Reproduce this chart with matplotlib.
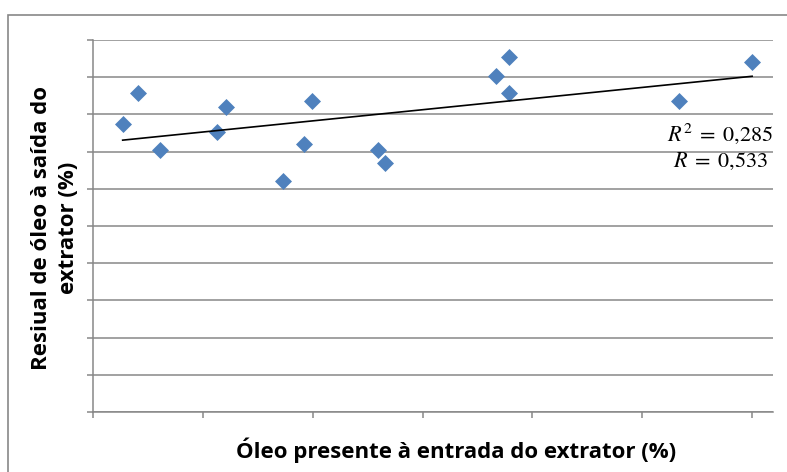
import numpy as np
import matplotlib
matplotlib.use("Agg")
import matplotlib.pyplot as plt
from matplotlib.patches import Rectangle

# Data (axis units are arbitrary since tick labels are hidden)
oil_in = [0.27, 0.41, 0.61, 1.13, 1.21, 1.73, 1.92, 1.99, 2.59, 2.66, 3.67, 3.79, 3.79, 5.33, 6.00]
oil_out = [7.73, 8.57, 7.05, 7.53, 8.21, 6.22, 7.21, 8.36, 7.04, 6.69, 9.03, 9.55, 8.57, 8.36, 9.40]
r2_text = r"$R^2\;=\;0{,}285$"
r_text = r"$R\;=\;0{,}533$"
xlabel = "Óleo presente à entrada do extrator (%)"
ylabel = "Resiual de óleo à saída do\nextrator (%)"

plt.rcParams['mathtext.fontset'] = 'stix'

W, H = 787, 472
fig = plt.figure(figsize=(W / 100, H / 100), dpi=100)
ax = fig.add_axes([93 / W, 1 - 412 / H, (773 - 93) / W, (412 - 40) / H])

grid_c = '#878787'
ax.set_xlim(0, 6.19)
ax.set_ylim(0, 10)
ax.set_xticks(np.arange(0, 7, 1))
ax.set_yticks(np.arange(0, 11, 1))
ax.set_xticklabels([])
ax.set_yticklabels([])
ax.grid(axis='y', color=grid_c, linewidth=1.1)
ax.set_axisbelow(True)
for s in ['top', 'right']:
    ax.spines[s].set_visible(False)
for s in ['left', 'bottom']:
    ax.spines[s].set_color(grid_c)
    ax.spines[s].set_linewidth(1.1)
ax.tick_params(axis='both', direction='out', length=4, width=1.1, color=grid_c)

ax.scatter(oil_in, oil_out, marker='D', s=75, color='#4F81BD', zorder=3, linewidths=0)

x = np.array(oil_in)
y = np.array(oil_out)
m, b = np.polyfit(x, y, 1)
xs = np.array([x.min(), x.max()])
ax.plot(xs, m * xs + b, color='black', linewidth=1.2, zorder=4)

ax.text(1.0, 1 - (141 - 40) / 372, r2_text, transform=ax.transAxes, ha='right',
        va='baseline', fontsize=16, color='black')
ax.text(0.993, 1 - (167 - 40) / 372, r_text, transform=ax.transAxes, ha='right',
        va='baseline', fontsize=16, color='black')

fig.text(456 / W, 1 - 450 / H, xlabel, ha='center', va='center',
         fontsize=16, fontweight='bold', family='Open Sans', color='black')
fig.text(55 / W, 1 - 228 / H, ylabel, ha='center', va='center', rotation=90,
         multialignment='center', fontsize=16, fontweight='bold', family='Open Sans',
         linespacing=1.4, color='black')

# outer chart frame (cropped at right and bottom)
fig.patches.append(Rectangle((8 / W, -0.05), 1.1, 1 - 15 / H + 0.05, transform=fig.transFigure,
                             fill=False, edgecolor=grid_c, linewidth=1.2))

fig.savefig('out.png', dpi=100)
